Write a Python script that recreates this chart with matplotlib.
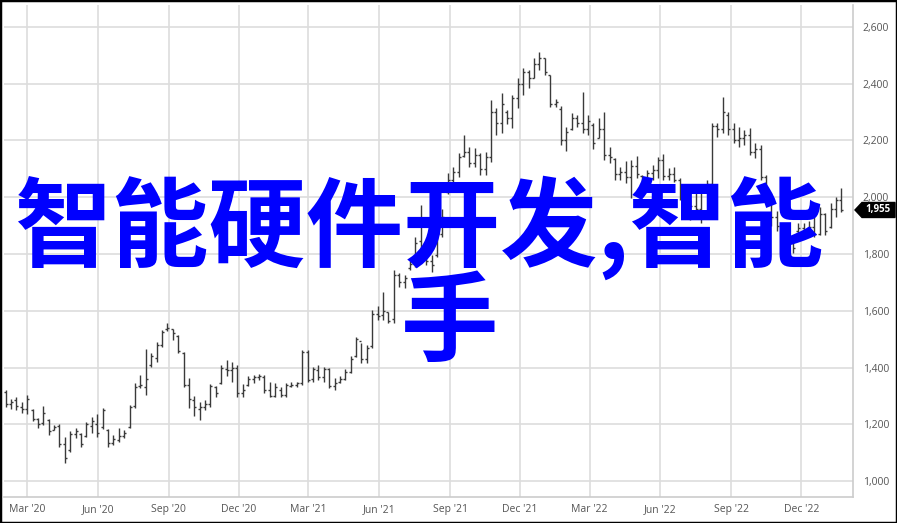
import matplotlib
matplotlib.use("Agg")
import matplotlib.pyplot as plt
import matplotlib.dates as mdates
from matplotlib.patches import Polygon, Rectangle
import pandas as pd
import numpy as np

# ---- data (weekly OHLC) ----
start_date = "2020-02-02"
highs = [1321,1289,1296,1278,1303,1254,1222,1264,1218,1197,1201,1155,1176,1187,1169,1208,1225,1236,1257,1183,
         1162,1187,1180,1268,1345,1374,1465,1451,1490,1532,1557,1536,1514,1455,1363,1300,1278,1285,1342,1335,
         1409,1426,1419,1409,1342,1370,1374,1377,1374,1349,1345,1331,1345,1349,1349,1462,1462,1402,1409,1402,
         1398,1363,1370,1395,1440,1507,1486,1479,1603,1617,1666,1596,1744,1733,1726,1779,1860,1973,1830,1796,
         1890,1960,2085,2107,2156,2219,2177,2173,2156,2159,2343,2314,2367,2307,2360,2420,2455,2448,2490,2511,
         2490,2430,2346,2321,2247,2297,2290,2371,2290,2261,2280,2300,2177,2138,2107,2128,2131,2145,2078,2096,
         2114,2142,2152,2103,2107,2068,2000,1990,2015,2043,2061,2261,2261,2353,2300,2261,2247,2237,2244,2191,
         2184,2078,2000,1950,1900,1880,1867,1909,1910,1915,1955,1965,1944,1980,2000,2033]
lows = [1261,1254,1250,1240,1236,1211,1187,1197,1162,1180,1120,1062,1102,1151,1120,1155,1169,1155,1183,1120,
        1127,1137,1151,1187,1257,1328,1303,1402,1419,1472,1529,1497,1451,1331,1257,1229,1215,1250,1261,1296,
        1342,1370,1349,1296,1296,1335,1345,1356,1310,1296,1296,1296,1296,1331,1331,1338,1349,1349,1356,1349,
        1328,1321,1345,1356,1381,1437,1416,1416,1469,1567,1567,1557,1557,1684,1680,1744,1754,1768,1760,1737,
        1790,1860,2010,2043,2071,2142,2107,2107,2078,2078,2124,2219,2226,2258,2244,2314,2360,2385,2420,2448,
        2430,2318,2318,2184,2163,2237,2247,2226,2219,2170,2209,2131,2121,2061,2061,2050,1997,2068,2050,2061,
        2061,2068,2061,2061,2054,1990,1930,1920,1948,1909,2036,2036,2212,2226,2219,2191,2177,2184,2149,2138,
        2061,1990,1900,1880,1840,1820,1804,1874,1874,1885,1860,1867,1867,1892,1930,1948]
opens = [1315,1270,1285,1262,1255,1250,1220,1205,1215,1180,1195,1130,1110,1165,1165,1160,1195,1200,1190,1180,
         1135,1145,1160,1190,1265,1335,1330,1410,1435,1480,1535,1535,1510,1450,1340,1285,1255,1260,1270,1330,
         1345,1395,1390,1400,1310,1340,1360,1365,1365,1320,1300,1320,1305,1335,1340,1345,1455,1360,1390,1365,
         1395,1335,1350,1360,1385,1440,1495,1430,1475,1590,1585,1595,1570,1725,1700,1750,1765,1845,1790,1775,
         1795,1870,2020,2060,2090,2145,2160,2120,2150,2100,2140,2300,2260,2300,2280,2350,2400,2440,2420,2470,
         2490,2430,2330,2310,2200,2240,2280,2260,2240,2255,2210,2240,2150,2135,2080,2090,2070,2110,2075,2065,
         2085,2095,2130,2075,2080,2060,1995,1950,1970,1960,2040,2045,2250,2240,2290,2240,2200,2210,2220,2160,
         2170,2070,1995,1930,1895,1860,1840,1880,1890,1890,1895,1870,1940,1895,1960,1990]
closes = [1270,1280,1265,1255,1290,1220,1200,1240,1175,1190,1130,1080,1165,1175,1130,1200,1210,1170,1250,1135,
          1150,1160,1170,1260,1330,1340,1360,1440,1480,1525,1540,1520,1460,1340,1290,1260,1260,1270,1335,1310,
          1400,1390,1400,1310,1320,1360,1365,1370,1320,1300,1330,1305,1340,1340,1345,1455,1355,1395,1365,1395,
          1335,1345,1360,1385,1430,1500,1430,1470,1590,1580,1600,1565,1725,1700,1715,1765,1840,1790,1775,1760,
          1870,1930,2060,2090,2140,2160,2120,2150,2100,2140,2300,2260,2330,2280,2350,2400,2440,2420,2470,2490,
          2440,2330,2335,2200,2230,2280,2260,2240,2270,2190,2240,2150,2140,2080,2090,2070,2110,2080,2065,2085,
          2095,2130,2075,2080,2060,2000,1950,1970,1960,2030,2045,2250,2240,2300,2240,2200,2210,2220,2160,2170,
          2070,2010,1930,1900,1860,1840,1820,1890,1885,1895,1870,1940,1880,1960,1990,1955]
y_ticks = [1000, 1200, 1400, 1600, 1800, 2000, 2200, 2400, 2600]
x_tick_dates = ["2020-03-01","2020-06-01","2020-09-01","2020-12-01","2021-03-01","2021-06-01",
                "2021-09-01","2021-12-01","2022-03-01","2022-06-01","2022-09-01","2022-12-01"]
overlay_line1 = "智能硬件开发,智能"
overlay_line2 = "手"
last_label = "1,955"

# ---- figure ----
W, H = 897, 523
fig = plt.figure(figsize=(W/100, H/100), dpi=100)
fig.patch.set_facecolor("white")
ax = fig.add_axes([4/W, 1-497/H, (853-4)/W, (497-5)/H])

dates = pd.date_range(start_date, periods=len(highs), freq="7D")
xn = mdates.date2num(dates.to_pydatetime())
tw = 2.6  # days, width of open/close ticks

ax.vlines(xn, lows, highs, color="#3a3a3a", linewidth=1.0, zorder=3)
ax.hlines(opens, xn - tw, xn, color="#3a3a3a", linewidth=1.0, zorder=3)
ax.hlines(closes, xn, xn + tw, color="#3a3a3a", linewidth=1.0, zorder=3)

ax.set_ylim(944, 2677)
ax.set_xlim(mdates.date2num(pd.Timestamp("2020-01-31")), mdates.date2num(pd.Timestamp("2023-02-06")))

ax.set_yticks(y_ticks)
ax.set_yticklabels([f"{v:,}" for v in y_ticks])
xt = [mdates.date2num(pd.Timestamp(d)) for d in x_tick_dates]
ax.set_xticks(xt)
ax.set_xticklabels([pd.Timestamp(d).strftime("%b '%y") for d in x_tick_dates])

ax.yaxis.tick_right()
ax.tick_params(axis="y", length=0, pad=7, labelsize=7.5, labelcolor="#555555")
ax.tick_params(axis="x", length=0, pad=5, labelsize=7.5, labelcolor="#555555")
for lab in ax.get_xticklabels() + ax.get_yticklabels():
    lab.set_fontfamily("Open Sans")

ax.grid(True, color="#dddddd", linewidth=1.2, zorder=0)
ax.set_axisbelow(True)
for s in ["left", "top"]:
    ax.spines[s].set_visible(False)
for s in ["right", "bottom"]:
    ax.spines[s].set_color("#cccccc")
    ax.spines[s].set_linewidth(1.2)

# last price label
tr = ax.get_yaxis_transform()
axw = 853 - 4
def fx(px):
    return (px - 4) / axw
hh = 7.5 * (2677 - 944) / (497 - 5)
poly = Polygon([(fx(855), closes[-1]), (fx(862), closes[-1] + hh), (fx(895), closes[-1] + hh),
                (fx(895), closes[-1] - hh), (fx(862), closes[-1] - hh)],
               closed=True, transform=tr, facecolor="black", edgecolor="black", clip_on=False, zorder=5)
ax.add_patch(poly)
ax.text(fx(878), closes[-1], last_label, transform=tr, color="white", fontsize=7, fontweight="bold",
        ha="center", va="center", fontfamily="Open Sans", zorder=6, clip_on=False)

# overlay text
fig.text(419/W, 1-228/H, overlay_line1, fontsize=70, fontweight="bold", color="#0000ff",
         ha="center", va="center", family=["Noto Sans CJK SC", "DejaVu Sans"], zorder=10)
fig.text(449/W, 1-324/H, overlay_line2, fontsize=70, fontweight="bold", color="#0000ff",
         ha="center", va="center", family=["Noto Sans CJK SC", "DejaVu Sans"], zorder=10)

# image frame
fig.add_artist(Rectangle((0, 0), 1, 1, transform=fig.transFigure, fill=False,
                         edgecolor="black", linewidth=2.5, zorder=20))

fig.savefig("out.png", dpi=100)
